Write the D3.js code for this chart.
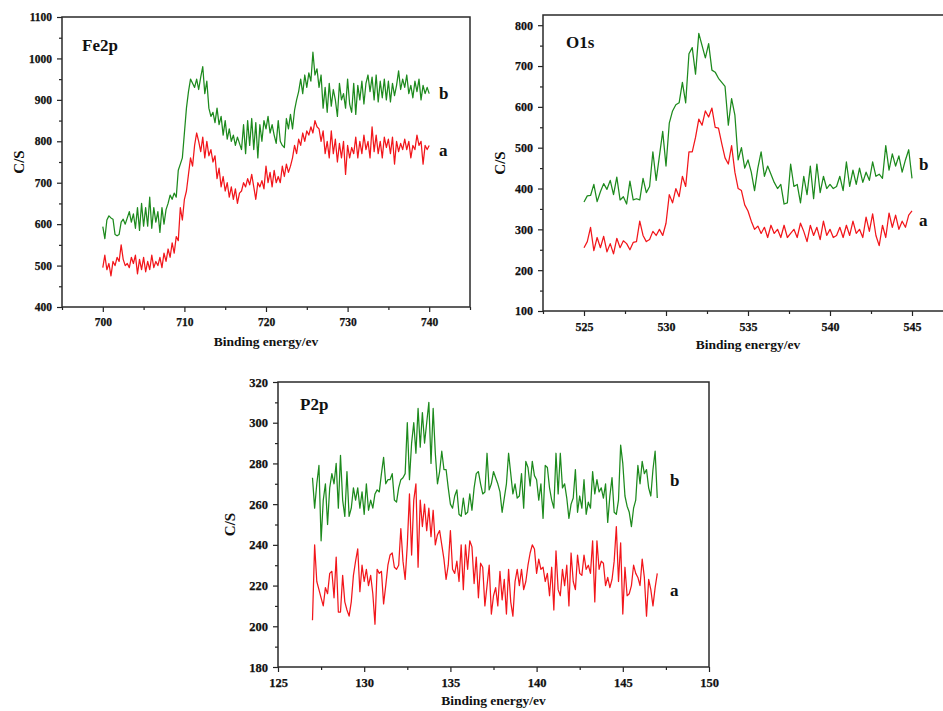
<!DOCTYPE html>
<html>
<head>
<meta charset="utf-8">
<script src="https://cdn.jsdelivr.net/npm/d3@7/dist/d3.min.js"></script>
<style>
  html, body { margin: 0; padding: 0; background: #fff; }
  svg { display: block; }
  text { font-family: "Liberation Serif", "Times New Roman", serif; font-weight: bold; fill: #111; }
</style>
</head>
<body>
<svg id="chart" width="943" height="711"></svg>
<script>
// ---- Fe2p spectrum (700–740 eV, 0.25 eV step) ----
const fe2pStart = 700, fe2pStep = 0.25;
const fe2pA = [495,525,490,505,475,510,500,520,510,550,515,500,505,495,520,505,525,480,515,490,520,
  485,510,490,525,495,510,500,520,495,530,510,540,520,555,530,570,560,640,610,660,
  680,720,760,740,790,820,800,775,810,760,800,765,780,750,765,710,735,690,715,680,
  700,665,690,660,685,650,675,680,700,690,710,695,720,690,660,700,690,705,685,740,
  700,725,690,730,700,715,700,740,715,745,725,740,760,790,770,805,790,820,800,825,
  815,835,820,850,835,830,800,825,770,800,760,825,770,805,750,795,760,800,720,790,
  760,785,770,810,760,800,770,815,780,800,760,835,775,815,770,800,760,810,785,805,
  770,810,745,800,775,795,780,805,780,800,760,790,780,815,790,800,745,790,780,790];
const fe2pB = [594,565,610,620,615,612,575,572,575,605,612,600,615,630,605,625,590,640,585,650,595,
  640,595,665,590,640,605,630,580,640,600,635,650,670,660,675,665,730,745,760,820,
  880,920,950,940,930,950,925,955,980,915,945,880,860,870,845,880,840,860,815,850,
  805,830,800,815,790,810,795,780,840,770,850,790,855,780,845,760,840,800,850,830,
  860,820,840,815,795,850,800,790,785,855,830,865,830,875,900,920,950,915,960,930,
  965,945,1015,960,975,930,960,880,930,870,940,885,925,900,860,940,900,915,880,950,
  890,870,940,865,935,900,945,890,940,960,920,955,900,960,895,945,905,950,900,945,
  895,940,910,935,970,925,950,930,960,915,935,905,945,920,950,900,935,915,930,915];
const fe2pXTicks = [700, 710, 720, 730, 740];
const fe2pYTicks = [400, 500, 600, 700, 800, 900, 1000, 1100];

// ---- O1s spectrum (525–545 eV, 0.2 eV step) ----
const o1sStart = 525, o1sStep = 0.2;
const o1sA = [255,270,305,248,280,255,283,245,265,240,
  278,255,272,265,250,268,270,320,285,270,
  275,295,285,300,285,315,385,365,400,380,
  430,405,490,490,525,570,555,590,575,597,
  550,548,510,475,460,505,440,400,395,360,
  345,320,300,308,290,305,280,310,290,300,
  280,310,280,290,300,280,315,295,270,310,
  285,305,275,320,285,300,280,285,305,280,
  310,285,320,290,300,280,330,295,338,285,
  260,310,280,340,305,335,300,320,305,335,
  345];
const o1sB = [367,382,383,410,368,392,412,398,420,385,
  428,372,380,362,418,372,375,372,425,390,
  405,490,420,480,540,455,560,590,605,610,
  660,610,730,745,680,780,750,720,755,690,
  685,670,660,650,555,620,580,470,500,450,
  470,440,395,450,490,430,455,435,415,400,
  410,362,365,460,405,410,365,430,385,455,
  375,460,390,430,400,410,400,405,430,395,
  465,405,445,410,450,415,440,420,465,430,
  435,425,505,445,485,455,480,440,470,495,
  425];
const o1sXTicks = [525, 530, 535, 540, 545];
const o1sYTicks = [100, 200, 300, 400, 500, 600, 700, 800];

// ---- P2p spectrum (127–147 eV, 0.125 eV step) ----
const p2pStart = 127, p2pStep = 0.125;
const p2pA = [203,240,222,218,214,210,219,216,
  226,227,214,234,207,207,225,212,
  208,205,212,225,232,238,217,230,
  222,228,220,225,216,201,228,226,
  227,211,220,230,235,236,229,228,
  230,248,232,223,240,265,235,262,
  270,229,262,249,260,247,258,244,
  257,240,245,247,240,233,223,230,
  247,228,226,232,222,240,218,240,
  228,242,239,221,234,214,231,229,
  210,220,230,206,215,219,210,227,
  213,223,206,228,212,205,222,228,
  220,228,218,222,230,236,240,238,
  226,233,228,229,222,226,215,229,
  208,237,218,215,228,220,230,210,
  236,222,218,235,226,225,235,228,
  230,226,242,212,242,228,232,231,
  220,224,219,223,232,249,222,241,
  206,229,215,216,220,230,226,224,
  220,233,224,205,223,218,210,219,
  226];
const p2pB = [273,258,270,279,242,262,270,250,
  268,275,270,280,258,284,262,254,
  276,254,258,268,262,268,258,266,
  255,270,257,262,258,265,267,266,
  275,283,270,272,272,275,262,261,
  268,272,273,275,300,272,290,300,
  285,307,288,305,290,300,310,280,
  307,285,270,276,286,277,277,268,
  260,258,264,267,255,254,263,255,
  256,265,257,268,275,276,270,265,
  266,285,267,270,276,273,270,266,
  256,263,270,285,275,265,270,263,
  264,275,258,281,278,269,281,274,
  272,262,270,253,279,278,268,262,
  258,285,265,285,268,270,263,253,
  260,263,277,256,264,258,272,255,
  261,258,276,265,272,266,268,263,
  270,251,264,273,256,255,262,289,
  280,264,259,256,249,258,262,279,
  270,281,275,277,268,264,277,286,
  263];
const p2pXTicks = [125, 130, 135, 140, 145, 150];
const p2pYTicks = [180, 200, 220, 240, 260, 280, 300, 320];

const seriesNames = ["a", "b"];
const seriesColors = { a: "#f2161b", b: "#1d8a1d" };

function toPoints(start, step, values) {
  return values.map((v, i) => ({ x: start + i * step, y: v }));
}

const svg = d3.select("#chart");

function drawPanel(cfg) {
  const g = svg.append("g");
  const x = d3.scaleLinear().domain(cfg.xDomain).range([cfg.left, cfg.right]);
  const y = d3.scaleLinear().domain(cfg.yDomain).range([cfg.bottom, cfg.top]);

  // minor ticks
  g.append("g")
    .attr("transform", `translate(0,${cfg.bottom})`)
    .call(d3.axisBottom(x).tickValues(cfg.xMinor).tickSize(3).tickFormat(""))
    .call(a => a.select(".domain").remove());
  g.append("g")
    .attr("transform", `translate(${cfg.left},0)`)
    .call(d3.axisLeft(y).tickValues(cfg.yMinor).tickSize(3).tickFormat(""))
    .call(a => a.select(".domain").remove());

  // major ticks with labels
  const xa = g.append("g")
    .attr("transform", `translate(0,${cfg.bottom})`)
    .call(d3.axisBottom(x).tickValues(cfg.xTicks).tickSize(5).tickPadding(6).tickFormat(d3.format("d")));
  const ya = g.append("g")
    .attr("transform", `translate(${cfg.left},0)`)
    .call(d3.axisLeft(y).tickValues(cfg.yTicks).tickSize(5).tickPadding(5).tickFormat(d3.format("d")));
  [xa, ya].forEach(a => {
    a.select(".domain").remove();
    a.selectAll("text")
      .attr("fill", "#111")
      .attr("stroke", "#111")
      .attr("stroke-width", 0.25)
      .style("font-family", '"Liberation Serif", "Times New Roman", serif')
      .style("font-weight", "bold")
      .style("font-size", cfg.tickFont + "px");
  });
  g.selectAll(".tick line").attr("stroke", "#222").attr("stroke-width", 1.2);

  // clip for the traces
  const clipId = "clip-" + cfg.id;
  svg.append("clipPath").attr("id", clipId)
    .append("rect")
    .attr("x", cfg.left).attr("y", cfg.top)
    .attr("width", cfg.right - cfg.left).attr("height", cfg.bottom - cfg.top);

  const line = d3.line().x(d => x(d.x)).y(d => y(d.y));
  cfg.series.forEach(s => {
    g.append("path")
      .datum(toPoints(cfg.start, cfg.step, s.values))
      .attr("clip-path", `url(#${clipId})`)
      .attr("fill", "none")
      .attr("stroke", seriesColors[s.name])
      .attr("stroke-width", 1.25)
      .attr("stroke-linejoin", "round")
      .attr("d", line);
  });

  // frame
  g.append("rect")
    .attr("x", cfg.left).attr("y", cfg.top)
    .attr("width", cfg.right - cfg.left).attr("height", cfg.bottom - cfg.top)
    .attr("fill", "none").attr("stroke", "#2a2a2a").attr("stroke-width", 1.5);

  // panel title
  g.append("text")
    .attr("x", cfg.titlePos[0]).attr("y", cfg.titlePos[1])
    .style("font-size", "17px")
    .text(cfg.title);

  // series letters
  cfg.series.forEach(s => {
    g.append("text")
      .attr("x", cfg.letterX).attr("y", s.letterY)
      .style("font-size", "17px")
      .text(s.name);
  });

  // axis titles
  g.append("text")
    .attr("x", (cfg.left + cfg.right) / 2).attr("y", cfg.xTitleY)
    .attr("text-anchor", "middle")
    .style("font-size", "13.5px")
    .text("Binding energy/ev");
  g.append("text")
    .attr("transform", `translate(${cfg.yTitleX},${(cfg.top + cfg.bottom) / 2}) rotate(-90)`)
    .attr("text-anchor", "middle")
    .attr("dominant-baseline", "central")
    .style("font-size", "15px")
    .text("C/S");
}

drawPanel({
  id: "fe2p", title: "Fe2p",
  left: 62, right: 470, top: 17, bottom: 307,
  xDomain: [695, 745], yDomain: [400, 1100],
  xTicks: fe2pXTicks, yTicks: fe2pYTicks,
  xMinor: [695, 705, 715, 725, 735, 745], yMinor: [450, 550, 650, 750, 850, 950, 1050],
  tickFont: 11.5,
  start: fe2pStart, step: fe2pStep,
  series: [{ name: seriesNames[1], values: fe2pB, letterY: 99 }, { name: seriesNames[0], values: fe2pA, letterY: 156 }],
  titlePos: [82, 51], letterX: 439,
  xTitleY: 346, yTitleX: 19
});

drawPanel({
  id: "o1s", title: "O1s",
  left: 543, right: 953, top: 15, bottom: 311,
  xDomain: [522.5, 547.5], yDomain: [100, 825],
  xTicks: o1sXTicks, yTicks: o1sYTicks,
  xMinor: [522.5, 527.5, 532.5, 537.5, 542.5, 547.5], yMinor: [150, 250, 350, 450, 550, 650, 750],
  tickFont: 12,
  start: o1sStart, step: o1sStep,
  series: [{ name: seriesNames[1], values: o1sB, letterY: 170 }, { name: seriesNames[0], values: o1sA, letterY: 226 }],
  titlePos: [566, 48], letterX: 919,
  xTitleY: 349, yTitleX: 500
});

drawPanel({
  id: "p2p", title: "P2p",
  left: 278, right: 709, top: 382, bottom: 667,
  xDomain: [125, 150], yDomain: [180, 320],
  xTicks: p2pXTicks, yTicks: p2pYTicks,
  xMinor: [127.5, 132.5, 137.5, 142.5, 147.5], yMinor: [190, 210, 230, 250, 270, 290, 310],
  tickFont: 12.5,
  start: p2pStart, step: p2pStep,
  series: [{ name: seriesNames[1], values: p2pB, letterY: 486 }, { name: seriesNames[0], values: p2pA, letterY: 596 }],
  titlePos: [300, 410], letterX: 670,
  xTitleY: 705, yTitleX: 230
});
</script>
</body>
</html>
